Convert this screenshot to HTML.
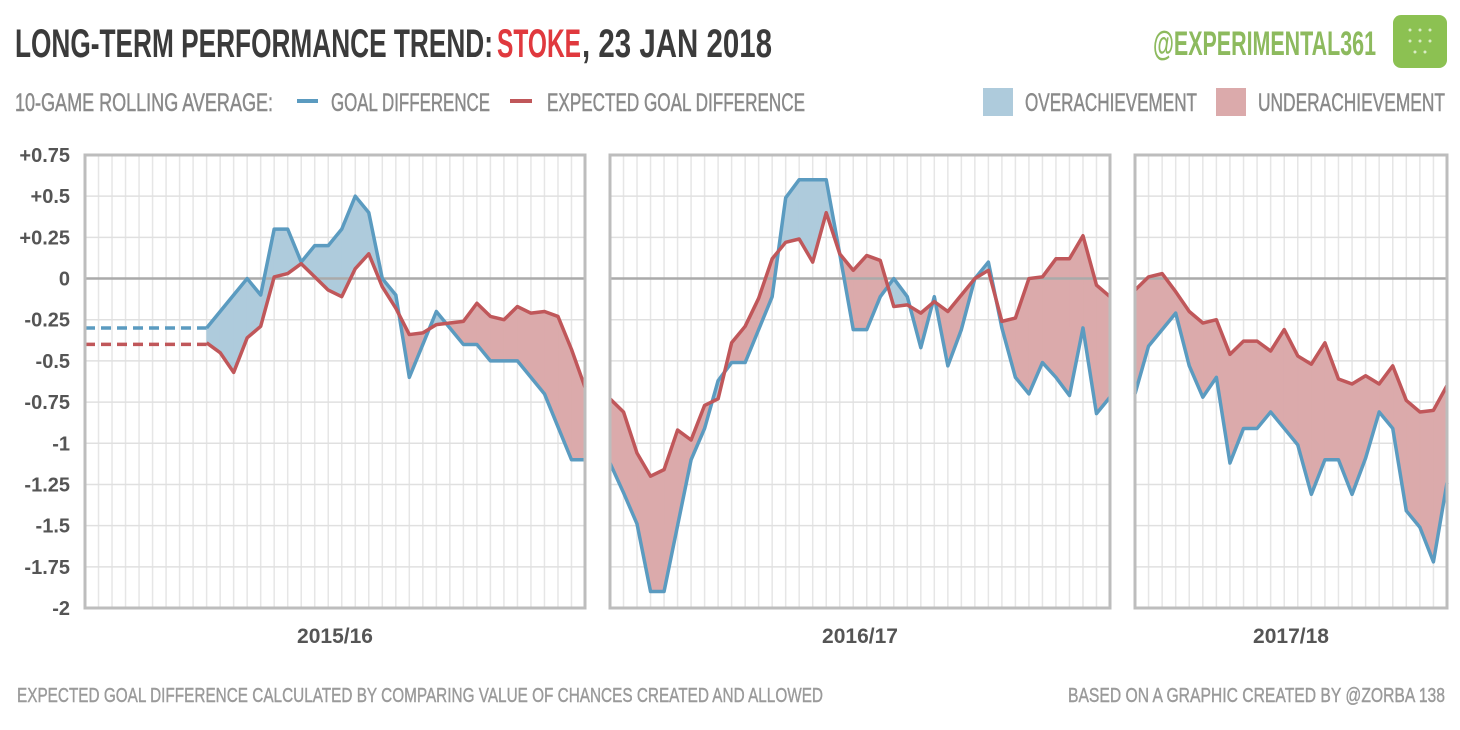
<!DOCTYPE html>
<html><head><meta charset="utf-8"><style>
html,body{margin:0;padding:0;background:#fff;}
svg{display:block;font-family:"Liberation Sans Narrow","Liberation Sans",sans-serif;}
</style></head><body>
<svg id="chart" width="1460" height="730" viewBox="0 0 1460 730" xmlns="http://www.w3.org/2000/svg">
<g>
<text x="15" y="57" font-size="40" font-weight="bold" fill="#3b3b3b" textLength="478" lengthAdjust="spacingAndGlyphs">LONG-TERM PERFORMANCE TREND:</text>
<text x="497" y="57" font-size="40" font-weight="bold" fill="#e0393e" textLength="84" lengthAdjust="spacingAndGlyphs">STOKE</text>
<text x="582" y="57" font-size="40" font-weight="bold" fill="#3b3b3b" textLength="190" lengthAdjust="spacingAndGlyphs">, 23 JAN 2018</text>
<text x="1153" y="55" font-size="34" font-weight="bold" fill="#8dba5e" textLength="223" lengthAdjust="spacingAndGlyphs">@EXPERIMENTAL361</text>
<rect x="1393" y="15" width="54" height="53" rx="8" fill="#8cc152"/>
<g fill="#d9ecc4"><circle cx="1410" cy="30" r="1.5"/><circle cx="1420" cy="30" r="1.5"/><circle cx="1430" cy="30" r="1.5"/><circle cx="1410" cy="41" r="1.5"/><circle cx="1420" cy="41" r="1.5"/><circle cx="1430" cy="41" r="1.5"/><circle cx="1415" cy="52" r="1.5"/><circle cx="1425" cy="52" r="1.5"/></g>
</g>
<g stroke="#8a8a8a" stroke-width="0.5">
<text x="15" y="111" font-size="25" fill="#8a8a8a" textLength="258" lengthAdjust="spacingAndGlyphs">10-GAME ROLLING AVERAGE:</text>
<line x1="297" y1="101" x2="318" y2="101" stroke="#5b9bc0" stroke-width="4"/>
<text x="331" y="111" font-size="25" fill="#8a8a8a" textLength="159" lengthAdjust="spacingAndGlyphs">GOAL DIFFERENCE</text>
<line x1="510" y1="101" x2="532" y2="101" stroke="#c0575a" stroke-width="4"/>
<text x="547" y="111" font-size="25" fill="#8a8a8a" textLength="258" lengthAdjust="spacingAndGlyphs">EXPECTED GOAL DIFFERENCE</text>
<rect x="983" y="88" width="30" height="28" fill="#aecbdc" stroke="none"/>
<text x="1025" y="111" font-size="25" fill="#8a8a8a" textLength="172" lengthAdjust="spacingAndGlyphs">OVERACHIEVEMENT</text>
<rect x="1216" y="88" width="30" height="28" fill="#dbaaab" stroke="none"/>
<text x="1258" y="111" font-size="25" fill="#8a8a8a" textLength="187" lengthAdjust="spacingAndGlyphs">UNDERACHIEVEMENT</text>
</g>
<g id="plot"></g>
<g stroke="#9a9a9a" stroke-width="0.4">
<text x="17" y="702" font-size="20" fill="#9a9a9a" textLength="806" lengthAdjust="spacingAndGlyphs">EXPECTED GOAL DIFFERENCE CALCULATED BY COMPARING VALUE OF CHANCES CREATED AND ALLOWED</text>
<text x="1068" y="702" font-size="20" fill="#9a9a9a" textLength="377" lengthAdjust="spacingAndGlyphs">BASED ON A GRAPHIC CREATED BY @ZORBA 138</text>
</g>
</svg>
<script>
const seasons = ["2015/16", "2016/17", "2017/18"];
const gamesPerSeason = [38, 38, 24];
const firstGame = [9, 0, 0];
const gd1516 = [-0.3,-0.2,-0.1,0,-0.1,0.3,0.3,0.1,0.2,0.2,0.3,0.5,0.4,0,-0.1,-0.6,-0.4,-0.2,-0.3,-0.4,-0.4,-0.5,-0.5,-0.5,-0.6,-0.7,-0.9,-1.1,-1.1];
const xgd1516 = [-0.39,-0.45,-0.57,-0.36,-0.29,0.01,0.03,0.09,0.01,-0.07,-0.11,0.06,0.15,-0.05,-0.18,-0.34,-0.33,-0.28,-0.27,-0.26,-0.15,-0.23,-0.25,-0.17,-0.21,-0.2,-0.23,-0.43,-0.66];
const gd1617 = [-1.12,-1.3,-1.49,-1.9,-1.9,-1.5,-1.1,-0.91,-0.62,-0.51,-0.51,-0.31,-0.11,0.49,0.6,0.6,0.6,0.15,-0.31,-0.31,-0.11,0,-0.11,-0.42,-0.11,-0.53,-0.31,0,0.1,-0.3,-0.6,-0.7,-0.51,-0.6,-0.71,-0.3,-0.82,-0.72];
const xgd1617 = [-0.73,-0.81,-1.06,-1.2,-1.16,-0.92,-0.98,-0.77,-0.73,-0.39,-0.29,-0.12,0.12,0.22,0.24,0.1,0.4,0.15,0.05,0.14,0.11,-0.17,-0.16,-0.21,-0.14,-0.2,-0.1,0,0.05,-0.26,-0.24,0,0.01,0.12,0.12,0.26,-0.04,-0.11];
const gd1718 = [-0.7,-0.41,-0.31,-0.21,-0.53,-0.72,-0.6,-1.12,-0.91,-0.91,-0.81,-0.91,-1.01,-1.31,-1.1,-1.1,-1.31,-1.09,-0.81,-0.91,-1.41,-1.51,-1.72,-1.24];
const xgd1718 = [-0.07,0.01,0.03,-0.08,-0.2,-0.27,-0.25,-0.46,-0.38,-0.38,-0.44,-0.31,-0.47,-0.52,-0.39,-0.61,-0.64,-0.59,-0.64,-0.53,-0.74,-0.81,-0.8,-0.65];
const priorGd = -0.3;
const priorXgd = -0.4;
const yTicks = [0.75,0.5,0.25,0,-0.25,-0.5,-0.75,-1,-1.25,-1.5,-1.75,-2];
const yTickLabels = ["+0.75","+0.5","+0.25","0","-0.25","-0.5","-0.75","-1","-1.25","-1.5","-1.75","-2"];

const gdSeries = [gd1516, gd1617, gd1718];
const xgdSeries = [xgd1516, xgd1617, xgd1718];
const NS = "http://www.w3.org/2000/svg";
const plot = document.getElementById("plot");
const panelX = [[85,585],[610,1110],[1135,1447]];
const yTop = 155, yBot = 608;
function yScale(v){ return yTop + (0.75 - v) / 2.75 * (yBot - yTop); }
function mk(tag, attrs, parent){ const e = document.createElementNS(NS, tag); for (const k in attrs) e.setAttribute(k, attrs[k]); (parent||plot).appendChild(e); return e; }

yTicks.forEach((t, i) => {
  const lbl = mk("text", {x: 70, y: yScale(t) + 7, "font-size": 20, "font-weight": "bold", fill: "#555", "text-anchor": "end"});
  
  
  lbl.textContent = yTickLabels[i];
});

seasons.forEach((s, p) => {
  const [x0, x1] = panelX[p];
  const n = gamesPerSeason[p];
  const xs = i => x0 + i * (x1 - x0) / (n - 1);
  const g = mk("g", {});
  
  
  for (let i = 0; i < n; i++) mk("line", {x1: xs(i), x2: xs(i), y1: yTop, y2: yBot, stroke: "#e6e6e6", "stroke-width": 1.5}, g);
  yTicks.forEach(t => mk("line", {x1: x0, x2: x1, y1: yScale(t), y2: yScale(t), stroke: "#e0e0e0", "stroke-width": 1.5}, g));
  const gd = gdSeries[p], xg = xgdSeries[p], f = firstGame[p];
  for (let k = 0; k < gd.length - 1; k++) {
    const xa = xs(f + k), xb = xs(f + k + 1);
    const da = gd[k] - xg[k], db = gd[k + 1] - xg[k + 1];
    const segs = [];
    if (da * db < 0) {
      const t = da / (da - db);
      const xm = xa + t * (xb - xa), vm = gd[k] + t * (gd[k + 1] - gd[k]);
      segs.push([[xa, gd[k]], [xm, vm], [xm, vm], [xa, xg[k]], da]);
      segs.push([[xm, vm], [xb, gd[k + 1]], [xb, xg[k + 1]], [xm, vm], db]);
    } else {
      segs.push([[xa, gd[k]], [xb, gd[k + 1]], [xb, xg[k + 1]], [xa, xg[k]], da + db]);
    }
    segs.forEach(sg => {
      const pts = sg.slice(0, 4).map(q => q[0].toFixed(2) + "," + yScale(q[1]).toFixed(2)).join(" ");
      const poly = mk("polygon", {points: pts, fill: sg[4] > 0 ? "#aecbdc" : "#dbaaab", stroke: sg[4] > 0 ? "#aecbdc" : "#dbaaab", "stroke-width": 0.6}, g);
      
      
    });
  }
  const zl = mk("line", {x1: x0, x2: x1, y1: yScale(0), y2: yScale(0), stroke: "#aaa", "stroke-width": 2.5}, g);
  
  
  if (f > 0) {
    const d1 = mk("line", {x1: x0, x2: xs(f), y1: yScale(priorGd), y2: yScale(priorGd), stroke: "#5b9bc0", "stroke-width": 3.5, "stroke-dasharray": "10,6"}, g);
    
    
    const d2 = mk("line", {x1: x0, x2: xs(f), y1: yScale(priorXgd), y2: yScale(priorXgd), stroke: "#c0575a", "stroke-width": 3.5, "stroke-dasharray": "10,6"}, g);
    
    
  }
  const l1 = mk("polyline", {points: gd.map((v, k) => xs(f + k).toFixed(2) + "," + yScale(v).toFixed(2)).join(" "), fill: "none", stroke: "#5b9bc0", "stroke-width": 3.5, "stroke-linejoin": "round"}, g);
  
  
  const l2 = mk("polyline", {points: xg.map((v, k) => xs(f + k).toFixed(2) + "," + yScale(v).toFixed(2)).join(" "), fill: "none", stroke: "#c0575a", "stroke-width": 3.5, "stroke-linejoin": "round"}, g);
  
  
  const fr = mk("rect", {x: x0, y: yTop, width: x1 - x0, height: yBot - yTop, fill: "none", stroke: "#bdbdbd", "stroke-width": 3}, g);
  
  
  const sl = mk("text", {x: (x0 + x1) / 2, y: 643, "font-size": 21, "font-weight": "bold", fill: "#555", "text-anchor": "middle"}, g);
  
  
  sl.textContent = s;
});
</script>
</body></html>
